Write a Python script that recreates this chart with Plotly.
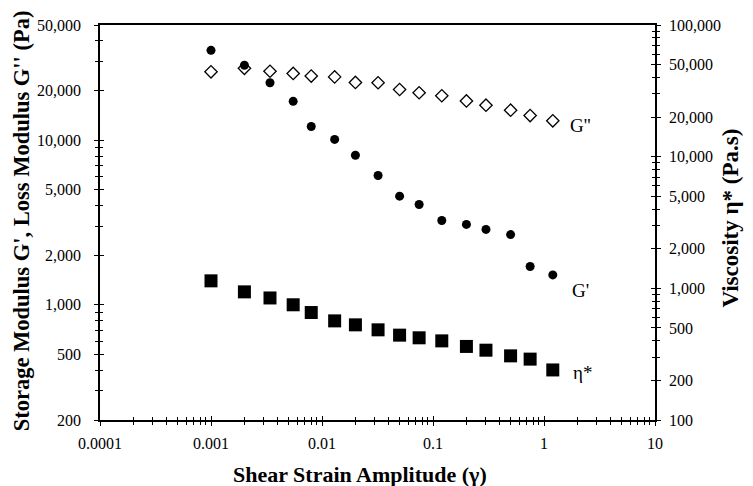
import math
import plotly.graph_objects as go

# ---- data ----
strain = [0.001, 0.002, 0.0034, 0.0055, 0.008, 0.013, 0.02, 0.032,
          0.05, 0.075, 0.12, 0.2, 0.3, 0.5, 0.75, 1.2]
g_loss = [26000, 27300, 26200, 25400, 24500, 24200, 22400, 22300,
          20300, 19400, 18600, 17300, 16300, 15200, 14100, 13100]
g_storage = [35100, 28500, 22300, 17200, 12100, 10100, 8100, 6100,
             4570, 4070, 3250, 3080, 2870, 2670, 1710, 1520]
eta = [1140, 940, 845, 750, 655, 566, 528, 484,
       441, 421, 399, 362, 339, 307, 290, 240]

x_ticks = [0.0001, 0.001, 0.01, 0.1, 1, 10]
x_labels = ["0.0001", "0.001", "0.01", "0.1", "1", "10"]
y_ticks = [200, 500, 1000, 2000, 5000, 10000, 20000, 50000]
y_labels = ["200", "500", "1,000", "2,000", "5,000", "10,000", "20,000", "50,000"]
y2_ticks = [100, 200, 500, 1000, 2000, 5000, 10000, 20000, 50000, 100000]
y2_labels = ["100", "200", "500", "1,000", "2,000", "5,000", "10,000",
             "20,000", "50,000", "100,000"]

x_title = "Shear Strain Amplitude (γ)"
y_title = "Storage Modulus G', Loss Modulus G'' (Pa)"
y2_title = "Viscosity η* (Pa.s)"

SERIF = "Liberation Serif, Times New Roman, serif"


def minor_vals(lo, hi):
    out = []
    for e in range(int(math.floor(math.log10(lo))), int(math.ceil(math.log10(hi))) + 1):
        for d in range(2, 10):
            v = d * 10 ** e
            if lo < v < hi:
                out.append(v)
    return out


fig = go.Figure()
fig.add_trace(go.Scatter(x=strain, y=g_loss, mode="markers", name="G''",
                         marker=dict(symbol="diamond-open", size=9.5, color="black",
                                     line=dict(width=1.3, color="black")),
                         yaxis="y"))
fig.add_trace(go.Scatter(x=strain, y=g_storage, mode="markers", name="G'",
                         marker=dict(symbol="circle", size=9, color="black"),
                         yaxis="y"))
fig.add_trace(go.Scatter(x=strain, y=eta, mode="markers", name="η*",
                         marker=dict(symbol="square", size=13, color="black"),
                         yaxis="y2"))
# empty traces so the inner-tick overlay axes are drawn
fig.add_trace(go.Scatter(x=[], y=[], xaxis="x2", yaxis="y3", hoverinfo="skip"))
fig.add_trace(go.Scatter(x=[], y=[], xaxis="x2", yaxis="y4", hoverinfo="skip"))

lab_font = dict(family=SERIF, size=19, color="black")
fig.add_annotation(x=math.log10(strain[-1]), y=math.log10(g_loss[-1]), xref="x", yref="y",
                   text="G''", showarrow=False, xshift=28, yshift=-5, font=lab_font)
fig.add_annotation(x=math.log10(strain[-1]), y=math.log10(g_storage[-1]), xref="x", yref="y",
                   text="G'", showarrow=False, xshift=28, yshift=-16, font=lab_font)
fig.add_annotation(x=math.log10(strain[-1]), y=math.log10(eta[-1]), xref="x", yref="y2",
                   text="η*", showarrow=False, xshift=30, yshift=-3, font=lab_font)

title_font = dict(family=SERIF, size=22, color="black")
fig.add_annotation(x=0.4685, y=-0.139, xref="paper", yref="paper", text="<b>" + x_title + "</b>",
                   showarrow=False, xanchor="center", yanchor="middle", font=title_font)
fig.add_annotation(x=-0.141, y=0.505, xref="paper", yref="paper", text="<b>" + y_title + "</b>",
                   showarrow=False, xanchor="center", yanchor="middle", textangle=-90,
                   font=dict(family=SERIF, size=22.5, color="black"))
fig.add_annotation(x=1.137, y=0.51, xref="paper", yref="paper", text="<b>" + y2_title + "</b>",
                   showarrow=False, xanchor="center", yanchor="middle", textangle=-90,
                   font=dict(family=SERIF, size=23, color="black"))

tick_font = dict(family=SERIF, size=16, color="black")

xr = [math.log10(x_ticks[0]), math.log10(x_ticks[-1])]
yr = [math.log10(y_ticks[0]), math.log10(y_ticks[-1])]
y2r = [math.log10(y2_ticks[0]), math.log10(y2_ticks[-1])]


def minor(vals, side):
    return dict(tickvals=vals, ticks=side, ticklen=3, tickcolor="black", showgrid=False)


common = dict(showgrid=False, zeroline=False, tickcolor="black", tickwidth=1, automargin=False)

# the page body adds an 8px offset, so the figure is 8px smaller on each side
fig.update_layout(
    width=745, height=478,
    margin=dict(l=92, r=98, t=17, b=66),
    paper_bgcolor="white", plot_bgcolor="white",
    showlegend=False,
    xaxis=dict(type="log", range=xr, tickvals=x_ticks, ticktext=x_labels,
               ticks="outside", ticklen=4,
               minor=minor(minor_vals(x_ticks[0], x_ticks[-1]), "outside"),
               showline=True, linecolor="black", linewidth=1.6, mirror=True,
               tickfont=tick_font, ticklabelstandoff=4, **common),
    xaxis2=dict(type="log", range=xr, tickvals=x_ticks, overlaying="x", anchor="y3",
                ticks="inside", ticklen=4, showticklabels=False, showline=False,
                minor=minor(minor_vals(x_ticks[0], x_ticks[-1]), "inside"), **common),
    yaxis=dict(type="log", range=yr, tickvals=y_ticks, ticktext=y_labels,
               ticks="outside", ticklen=4,
               minor=minor(minor_vals(y_ticks[0], y_ticks[-1]), "outside"),
               showline=True, linecolor="black", linewidth=1.6,
               tickfont=tick_font, ticklabelstandoff=10, **common),
    yaxis2=dict(type="log", range=y2r, tickvals=y2_ticks, ticktext=y2_labels,
                overlaying="y", side="right",
                ticks="outside", ticklen=4,
                minor=minor(minor_vals(y2_ticks[0], y2_ticks[-1]), "outside"),
                showline=True, linecolor="black", linewidth=1.6,
                tickfont=tick_font, ticklabelstandoff=5, **common),
    yaxis3=dict(type="log", range=yr, tickvals=y_ticks, overlaying="y", side="left",
                anchor="x2", ticks="inside", ticklen=4, showticklabels=False, showline=False,
                minor=minor(minor_vals(y_ticks[0], y_ticks[-1]), "inside"), **common),
    yaxis4=dict(type="log", range=y2r, tickvals=y2_ticks, overlaying="y", side="right",
                anchor="x2", ticks="inside", ticklen=4, showticklabels=False, showline=False,
                minor=minor(minor_vals(y2_ticks[0], y2_ticks[-1]), "inside"), **common),
)

fig.write_html("out.html")
